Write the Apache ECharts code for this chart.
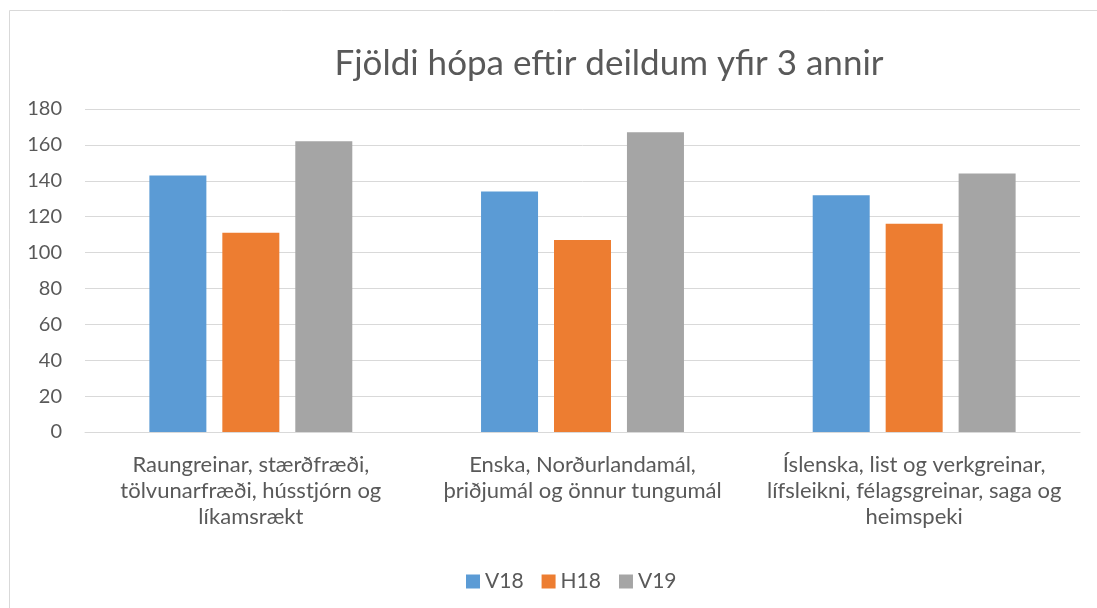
<!DOCTYPE html>
<html>
<head>
<meta charset="utf-8">
<script src="https://cdn.jsdelivr.net/npm/echarts@6/dist/echarts.min.js"></script>
<style>
  html, body { margin: 0; padding: 0; background: #fff; }
  #chart { width: 1097px; height: 608px; }
</style>
</head>
<body>
<div id="chart"></div>
<script>
// Deildir
const categories = [
  'Raungreinar, stærðfræði,\ntölvunarfræði, hússtjórn og\nlíkamsrækt',
  'Enska, Norðurlandamál,\nþriðjumál og önnur tungumál',
  'Íslenska, list og verkgreinar,\nlífsleikni, félagsgreinar, saga og\nheimspeki'
];
// Fjöldi hópa á hverri önn
const v18 = [143, 134, 132];
const h18 = [111, 107, 116];
const v19 = [162, 167, 144];
const yTicks = [0, 180, 20];

const textColor = '#595959';
const font = 'Lato, Carlito, sans-serif';

const chart = echarts.init(document.getElementById('chart'));

chart.setOption({
  animation: false,
  textStyle: { fontFamily: font },
  graphic: [{
    type: 'rect',
    shape: { x: 9.5, y: 10.5, width: 1100, height: 620 },
    style: { fill: 'none', stroke: '#d9d9d9', lineWidth: 1 },
    silent: true
  }],
  title: {
    text: 'Fjöldi hópa eftir deildum yfir 3 annir',
    left: 604,
    textAlign: 'center',
    top: 41,
    textStyle: { fontSize: 35, fontWeight: 'normal', color: textColor, fontFamily: font }
  },
  legend: {
    data: ['V18', 'H18', 'V19'],
    left: 461,
    top: 566,
    itemWidth: 14,
    itemHeight: 14,
    itemGap: 18,
    icon: 'rect',
    textStyle: { fontSize: 21, color: textColor, fontFamily: font }
  },
  grid: { left: 85, right: 17, top: 109, bottom: 176 },
  xAxis: {
    type: 'category',
    data: categories,
    axisLine: { lineStyle: { color: '#d9d9d9', width: 1 } },
    axisTick: { show: false },
    axisLabel: {
      color: textColor, fontSize: 22, lineHeight: 26, margin: 20,
      interval: 0, fontFamily: font
    }
  },
  yAxis: {
    type: 'value',
    min: yTicks[0],
    max: yTicks[1],
    interval: yTicks[2],
    axisLine: { show: false },
    axisTick: { show: false },
    splitLine: { lineStyle: { color: '#d9d9d9', width: 1 } },
    axisLabel: { color: textColor, fontSize: 20, margin: 23, fontFamily: font }
  },
  series: [
    { name: 'V18', type: 'bar', data: v18, itemStyle: { color: '#5b9bd5' }, barWidth: 57, barGap: '28%' },
    { name: 'H18', type: 'bar', data: h18, itemStyle: { color: '#ed7d31' }, barWidth: 57, barGap: '28%' },
    { name: 'V19', type: 'bar', data: v19, itemStyle: { color: '#a5a5a5' }, barWidth: 57, barGap: '28%' }
  ]
});
</script>
</body>
</html>
